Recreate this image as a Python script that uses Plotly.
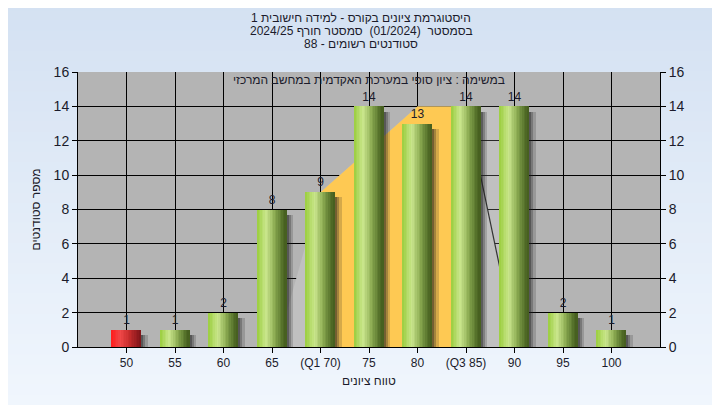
import plotly.graph_objects as go

# ---------------- data ----------------
labels = ["50", "55", "60", "65", "(Q1 70)", "75", "80", "(Q3 85)", "90", "95", "100"]
grades = [50, 55, 60, 65, 70, 75, 80, 85, 90, 95, 100]
counts = [1, 1, 2, 8, 9, 14, 13, 14, 14, 2, 1]
pass_grade = 55

# background distribution curve (category-index units)
curve_x = [3.1, 4.0, 6.0, 7.0, 8.04]
curve_y = [0, 9, 14, 14, 0]
iqr_x = [4.0, 6.0, 7.0]
iqr_y = [9, 14, 14]
tail_x = [7.0, 8.2]
tail_y = [14, 14]
edge_x = [7.0, 8.04]
edge_y = [14, 0]

title_lines = [
    "היסטוגרמת ציונים בקורס - למידה חישובית 1",
    "בסמסטר  (01/2024)  סמסטר חורף 2024/25",
    "סטודנטים רשומים - 88",
]
subtitle = "במשימה : ציון סופי במערכת האקדמית במחשב המרכזי"
x_title = "טווח ציונים"
y_title = "מספר סטודנטים"

# ---------------- style ----------------
OFF = 8                      # page body margin
W, H = 720 - OFF, 405 - OFF
P_L, P_R, P_T, P_B = 78, 660, 72, 347   # plot rectangle in page pixels
ML, MT = P_L - OFF, P_T - OFF
MR, MB = (W + OFF) - P_R, (H + OFF) - P_B
PW, PH = P_R - P_L, P_B - P_T
FONT = "Liberation Sans, Arimo, DejaVu Sans, sans-serif"
TXT = "#1b1b2b"

def px_x(px):
    return (px - P_L) / PW

def px_y(py):
    return (P_B - py) / PH

def lerp(stops, t):
    for (t0, c0), (t1, c1) in zip(stops, stops[1:]):
        if t0 <= t <= t1:
            f = (t - t0) / (t1 - t0) if t1 > t0 else 0
            return "rgb(%d,%d,%d)" % tuple(round(a + (b - a) * f) for a, b in zip(c0, c1))
    return "rgb(%d,%d,%d)" % stops[-1][1]

green_stops = [(0.0, (155, 206, 62)), (0.32, (202, 230, 142)), (0.6, (140, 172, 82)),
               (0.88, (82, 110, 40)), (1.0, (68, 92, 30))]
red_stops = [(0.0, (255, 28, 28)), (0.3, (240, 72, 72)), (0.6, (200, 45, 45)),
             (1.0, (125, 20, 25))]

xs = list(range(len(labels)))
fig = go.Figure()

# background gradient of the page
n_bands = 40
top_c, bot_c = (212, 225, 242), (240, 246, 253)
y_top, y_bot = px_y(0), px_y(405)
step = (y_bot - y_top) / n_bands
for i in range(n_bands):
    f = i / (n_bands - 1)
    col = "rgb(%d,%d,%d)" % tuple(round(a + (b - a) * f) for a, b in zip(top_c, bot_c))
    y0 = y_top + step * i
    y1 = y_top + step * (i + 1.6)
    fig.add_shape(type="rect", xref="paper", yref="paper", x0=px_x(0), x1=px_x(720),
                  y0=y0, y1=max(y1, y_bot), fillcolor=col, line_width=0, layer="below")
fig.add_shape(type="rect", xref="paper", yref="paper", x0=0, x1=1, y0=0, y1=1,
              fillcolor="#b4b4b4", line_width=0, layer="below")

# distribution areas (main subplot, under the bars)
fig.add_trace(go.Scatter(x=tail_x, y=tail_y, fill="tozeroy", mode="none",
                         fillcolor="rgba(255,255,255,0.16)", hoverinfo="skip", showlegend=False))
fig.add_trace(go.Scatter(x=curve_x, y=curve_y, fill="toself", mode="none",
                         fillcolor="#c0c0c0", hoverinfo="skip", showlegend=False))
fig.add_trace(go.Scatter(x=iqr_x, y=iqr_y, fill="tozeroy", mode="none",
                         fillcolor="#fec953", hoverinfo="skip", showlegend=False))
fig.add_trace(go.Scatter(x=edge_x, y=edge_y, mode="lines", line=dict(color="#333333", width=1.2),
                         hoverinfo="skip", showlegend=False))

# shadows (overlay subplot)
sh_w = 0.045
for j, a in enumerate([0.62, 0.4, 0.18]):
    fig.add_trace(go.Bar(x=xs, y=[c - 0.3 for c in counts], width=sh_w, offset=0.3 + j * sh_w,
                         yaxis="y2",
                         marker=dict(color="rgba(30,30,30,%.2f)" % a, line=dict(width=0)),
                         hoverinfo="skip", showlegend=False))

# cylinder bars made from vertical slices
N = 18
bw = 0.6
sw = bw / N
for i in range(N):
    t = (i + 0.5) / N
    cols = [lerp(red_stops if g < pass_grade else green_stops, t) for g in grades]
    fig.add_trace(go.Bar(x=xs, y=counts, width=sw * 1.08, offset=-bw / 2 + i * sw, yaxis="y2",
                         marker=dict(color=cols, line=dict(width=0)),
                         hoverinfo="skip", showlegend=False))

# value labels
fig.add_trace(go.Scatter(x=xs, y=counts, mode="markers+text", text=[str(c) for c in counts],
                         yaxis="y2", marker=dict(size=3, opacity=0),
                         textposition="top center", textfont=dict(family=FONT, size=12, color=TXT),
                         hoverinfo="skip", showlegend=False, cliponaxis=False))

ann = []
for k, line in enumerate(title_lines):
    ann.append(dict(text=line, xref="paper", yref="paper", x=px_x(361), y=px_y(18 + 13 * k),
                    showarrow=False, xanchor="center", yanchor="middle",
                    font=dict(family=FONT, size=12, color=TXT)))
ann.append(dict(text=subtitle, xref="paper", yref="paper", x=0.5, y=px_y(80), showarrow=False,
                xanchor="center", yanchor="middle", font=dict(family=FONT, size=12, color=TXT)))
ann.append(dict(text=x_title, xref="paper", yref="paper", x=0.5, y=px_y(381), showarrow=False,
                xanchor="center", yanchor="middle", font=dict(family=FONT, size=12, color=TXT)))
ann.append(dict(text=y_title, xref="paper", yref="paper", x=px_x(35), y=0.5, showarrow=False,
                textangle=-90, xanchor="center", yanchor="middle",
                font=dict(family=FONT, size=12, color=TXT)))

axis_common = dict(range=[0, 16], dtick=2, ticks="outside", ticklen=5, tickcolor="black",
                   showline=True, linecolor="black", linewidth=1, zeroline=False,
                   tickfont=dict(family=FONT, size=14, color=TXT), fixedrange=True)

fig.update_layout(
    width=W, height=H,
    margin=dict(l=ML, r=MR, t=MT, b=MB, pad=0),
    paper_bgcolor="#e2ebf7",
    plot_bgcolor="rgba(0,0,0,0)",
    barmode="overlay",
    bargap=0,
    showlegend=False,
    annotations=ann,
    xaxis=dict(range=[-1, 11], tickmode="array", tickvals=xs, ticktext=labels,
               ticks="outside", ticklen=5, tickcolor="black", showline=True, linecolor="black",
               showgrid=True, gridcolor="black", gridwidth=1, zeroline=False,
               tickfont=dict(family=FONT, size=12, color=TXT), fixedrange=True),
    yaxis=dict(showgrid=True, gridcolor="black", gridwidth=1, side="left", **axis_common),
    yaxis2=dict(overlaying="y", side="right", anchor="x", showgrid=False, **axis_common),
)

fig.write_html("out.html")
